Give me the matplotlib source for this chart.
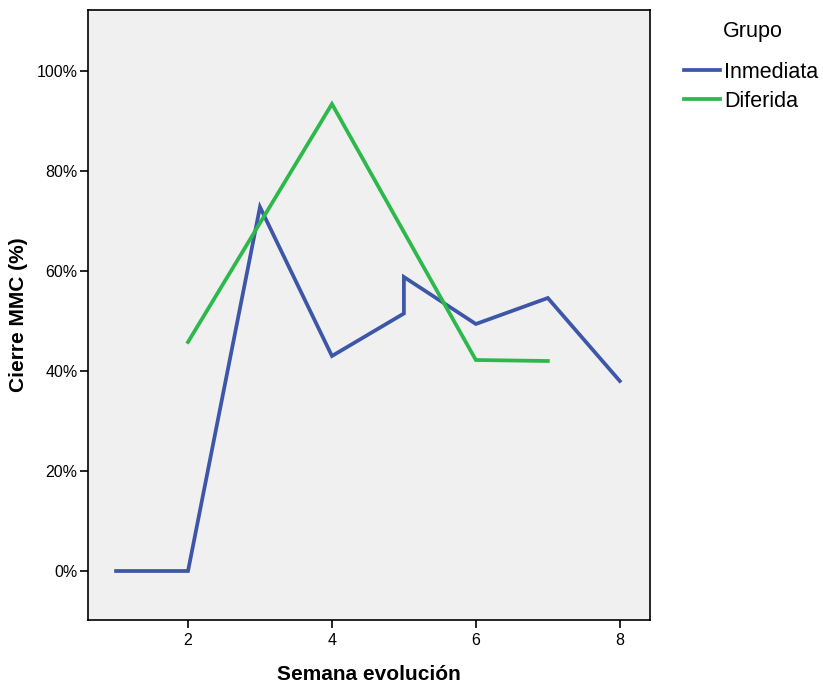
import matplotlib
matplotlib.use('Agg')
import matplotlib.pyplot as plt
from matplotlib.ticker import FuncFormatter

plt.rcParams['font.family'] = ['Liberation Sans', 'DejaVu Sans']

# Inmediata group (week 5 has two values)
inm_weeks = [1, 2, 3, 4, 5, 5, 6, 7, 8]
inm_pct = [0, 0, 72.8, 43.0, 51.5, 58.8, 49.4, 54.6, 38.0]

# Diferida group
dif_weeks = [2, 4, 6, 7]
dif_pct = [45.8, 93.4, 42.2, 42.0]

fig = plt.figure(figsize=(8.23, 6.88), dpi=100)
ax = fig.add_axes([88/823, 1 - 620/688, (650-88)/823, (620-10)/688])
ax.set_facecolor('#f0f0f0')

ax.plot(inm_weeks, inm_pct, color='#3d56a8', lw=2.7, label='Inmediata', solid_joinstyle='miter')
ax.plot(dif_weeks, dif_pct, color='#2db84b', lw=2.7, label='Diferida', solid_joinstyle='miter')

ax.set_xlim(0.61, 8.42)
ax.set_ylim(-9.8, 112.2)
ax.set_xticks([2, 4, 6, 8])
ax.set_yticks([0, 20, 40, 60, 80, 100])
ax.yaxis.set_major_formatter(FuncFormatter(lambda v, p: f'{v:.0f}%'))
ax.tick_params(direction='out', length=6, width=1.2, labelsize=11.5, colors='black')
ax.tick_params(axis='y', pad=1.5)
for s in ax.spines.values():
    s.set_linewidth(1.2)

ax.set_xlabel('Semana evolución', fontsize=15, fontweight='bold', labelpad=12)
ax.set_ylabel('Cierre MMC (%)', fontsize=15, fontweight='bold', labelpad=6)

fig.text(753/823, 1 - 32/688, 'Grupo', ha='center', va='center', fontsize=15.5)
fig.legend(loc='upper left', bbox_to_anchor=(684/823, 1 - 62/688),
           frameon=False, fontsize=15.5, handlelength=1.65,
           handletextpad=0.2, labelspacing=0.35, borderaxespad=0, borderpad=0)

fig.savefig('out.png', dpi=100)
